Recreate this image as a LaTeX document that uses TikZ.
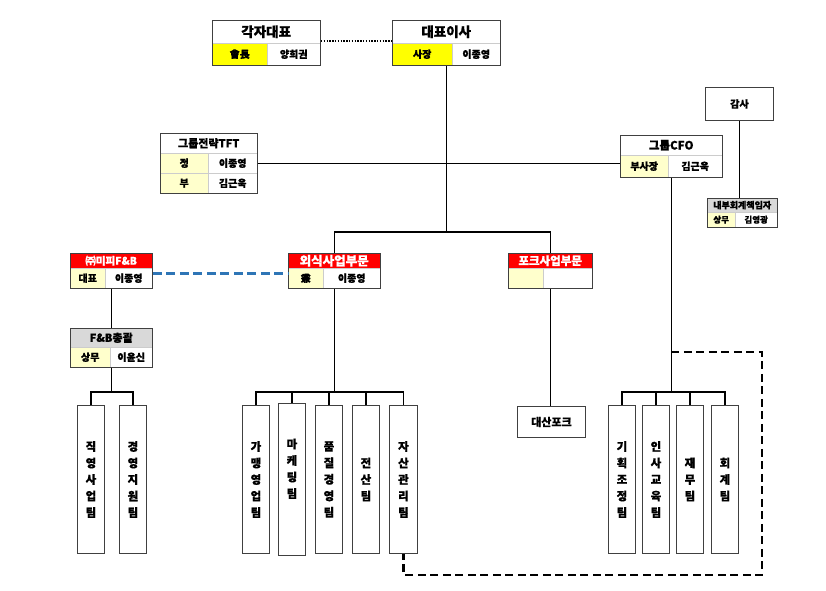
\documentclass[tikz,border=0pt]{standalone}
\usepackage{fontspec}
\setmainfont{Noto Sans CJK KR}[BoldFeatures={FakeBold=0.7}]
\definecolor{yel}{HTML}{FFFF00}
\definecolor{ltyel}{HTML}{FFFFCC}
\definecolor{red1}{HTML}{FF0000}
\definecolor{gry}{HTML}{D9D9D9}
\definecolor{bord}{HTML}{404040}
\definecolor{blu}{HTML}{2E75B6}
\tikzset{
 frame/.style={draw=bord, line width=0.9pt, inner sep=0pt, anchor=north west},
 cell/.style={draw=black!20, line width=0.4pt, inner sep=0pt, anchor=north west, font=\bfseries\fontsize{10}{12}\selectfont},
 ttl/.style={cell, font=\bfseries\fontsize{11}{13}\selectfont},
 team/.style={draw=bord, line width=0.9pt, inner sep=0pt, anchor=north west, minimum width=27pt, minimum height=148pt, align=center, font=\bfseries\fontsize{11.5}{16.5}\selectfont},
 conn/.style={draw=black, line width=1.1pt},
 dotline/.style={draw=black, line width=1.4pt, dash pattern=on 1.4pt off 1.4pt},
 bluedash/.style={draw=blu, line width=2.5pt, dash pattern=on 9pt off 4.5pt},
 thickdash/.style={draw=black, line width=2.3pt, dash pattern=on 8pt off 4.5pt},
}
\begin{document}
\begin{tikzpicture}[x=1pt,y=-1pt]
\useasboundingbox (0,0) rectangle (826,590);
% 각자대표
\node[ttl, fill=white, minimum width=108pt, minimum height=23pt, font=\bfseries\fontsize{13.5}{15}\selectfont] (rep-t) at (212,20) {각자대표};
\node[cell, fill=yel, minimum width=55pt, minimum height=22pt] (rep-l) at (212,43) {會長};
\node[cell, fill=white, minimum width=53pt, minimum height=22pt] (rep-r) at (267,43) {양희권};
\node[frame, minimum width=108pt, minimum height=45pt] (rep) at (212,20) {};
% 대표이사
\node[ttl, fill=white, minimum width=108pt, minimum height=23pt, font=\bfseries\fontsize{13.5}{15}\selectfont] (ceo-t) at (392,20) {대표이사};
\node[cell, fill=yel, minimum width=60pt, minimum height=22pt] (ceo-l) at (392,43) {사장};
\node[cell, fill=white, minimum width=48pt, minimum height=22pt] (ceo-r) at (452,43) {이종영};
\node[frame, minimum width=108pt, minimum height=45pt] (ceo) at (392,20) {};
% 그룹전략TFT
\node[ttl, fill=white, minimum width=97pt, minimum height=20pt] (tft-t) at (160,133) {그룹전략TFT};
\node[cell, fill=ltyel, minimum width=48pt, minimum height=20pt] (tft-l1) at (160,153) {정};
\node[cell, fill=white, minimum width=49pt, minimum height=20pt] (tft-r1) at (208,153) {이종영};
\node[cell, fill=ltyel, minimum width=48pt, minimum height=20pt] (tft-l2) at (160,173) {부};
\node[cell, fill=white, minimum width=49pt, minimum height=20pt] (tft-r2) at (208,173) {김근욱};
\node[frame, minimum width=97pt, minimum height=60pt] (tft) at (160,133) {};
% 그룹CFO
\node[ttl, fill=white, minimum width=102pt, minimum height=20pt, font=\bfseries\fontsize{11.5}{13}\selectfont] (cfo-t) at (620,135) {그룹CFO};
\node[cell, fill=ltyel, minimum width=48pt, minimum height=22pt] (cfo-l) at (620,155) {부사장};
\node[cell, fill=white, minimum width=54pt, minimum height=22pt] (cfo-r) at (668,155) {김근욱};
\node[frame, minimum width=102pt, minimum height=42pt] (cfo) at (620,135) {};
% 감사
\node[frame, minimum width=68pt, minimum height=33pt, font=\bfseries\fontsize{10}{12}\selectfont] (audit) at (705,87) {감사};
% 내부회계책임자
\node[cell, fill=gry, minimum width=70pt, minimum height=14pt, font=\bfseries\fontsize{9}{10}\selectfont] (icfo-t) at (707,198) {내부회계책임자};
\node[cell, fill=ltyel, minimum width=28pt, minimum height=15pt, font=\bfseries\fontsize{8.5}{10}\selectfont] (icfo-l) at (707,212) {상무};
\node[cell, fill=white, minimum width=42pt, minimum height=15pt, font=\bfseries\fontsize{8.5}{10}\selectfont] (icfo-r) at (735,212) {김영광};
\node[frame, minimum width=70pt, minimum height=29pt] (icfo) at (707,198) {};
% ㈜미피F&B
\node[ttl, fill=red1, text=white, minimum width=82pt, minimum height=15pt, font=\bfseries\fontsize{10.5}{12}\selectfont] (mipi-t) at (70,253) {㈜미피F\&B};
\node[cell, fill=ltyel, minimum width=35pt, minimum height=20pt] (mipi-l) at (70,268) {대표};
\node[cell, fill=white, minimum width=47pt, minimum height=20pt] (mipi-r) at (105,268) {이종영};
\node[frame, minimum width=82pt, minimum height=35pt] (mipi) at (70,253) {};
% 외식사업부문
\node[ttl, fill=red1, text=white, minimum width=92pt, minimum height=15pt, font=\bfseries\fontsize{12.5}{13}\selectfont] (food-t) at (288,253) {외식사업부문};
\node[cell, fill=ltyel, minimum width=35pt, minimum height=20pt] (food-l) at (288,268) {兼};
\node[cell, fill=white, minimum width=57pt, minimum height=20pt] (food-r) at (323,268) {이종영};
\node[frame, minimum width=92pt, minimum height=35pt] (food) at (288,253) {};
% 포크사업부문
\node[ttl, fill=red1, text=white, minimum width=84pt, minimum height=15pt, font=\bfseries\fontsize{11.5}{13}\selectfont] (pork-t) at (508,253) {포크사업부문};
\node[cell, fill=ltyel, minimum width=35pt, minimum height=20pt] (pork-l) at (508,268) {};
\node[cell, fill=white, minimum width=49pt, minimum height=20pt] (pork-r) at (543,268) {};
\node[frame, minimum width=84pt, minimum height=35pt] (pork) at (508,253) {};
% F&B총괄
\node[ttl, fill=gry, minimum width=82pt, minimum height=19pt] (fnb-t) at (70,328) {F\&B총괄};
\node[cell, fill=ltyel, minimum width=40pt, minimum height=20pt] (fnb-l) at (70,347) {상무};
\node[cell, fill=white, minimum width=42pt, minimum height=20pt] (fnb-r) at (110,347) {이윤신};
\node[frame, minimum width=82pt, minimum height=39pt] (fnb) at (70,328) {};
% 대산포크
\node[frame, minimum width=68pt, minimum height=31pt, font=\bfseries\fontsize{11}{13}\selectfont] (daesan) at (517,406) {대산포크};
% teams
\node[team] (lt1) at (77,405) {직\\영\\사\\업\\팀};
\node[team] (lt2) at (119,405) {경\\영\\지\\원\\팀};
\node[team] (mt1) at (242,405) {가\\맹\\영\\업\\팀};
\node[team, minimum height=152pt] (mt2) at (278,403) {마\\케\\팅\\팀\\[6pt]};
\node[team] (mt3) at (315,405) {품\\질\\경\\영\\팀};
\node[team] (mt4) at (352,405) {전\\산\\팀};
\node[team, minimum width=28pt] (mt5) at (389,405) {자\\산\\관\\리\\팀};
\node[team] (rt1) at (608,405) {기\\획\\조\\정\\팀};
\node[team] (rt2) at (642,405) {인\\사\\교\\육\\팀};
\node[team] (rt3) at (676,405) {재\\무\\팀};
\node[team] (rt4) at (711,405) {회\\계\\팀};
% connectors
\draw[dotline] ([yshift=2pt]rep.east) -- ([yshift=2pt]rep.east -| ceo.west);
\coordinate (hub) at (ceo.south |- 0,232);
\draw[conn] (ceo.south) -- (hub);
\draw[conn] (tft.east) -- (tft.east -| cfo.west);
\draw[conn] (food.north) |- (hub);
\draw[conn] (pork.north) |- (hub);
\draw[conn] (audit.south) -- (audit.south |- icfo.north);
\draw[bluedash] ([yshift=-2.5pt]mipi.east) -- ([yshift=-2.5pt]mipi.east -| food.west);
\draw[conn] (mipi.south) -- (mipi.south |- fnb.north);
\coordinate (lbus) at (fnb.south |- 0,392);
\draw[conn] (fnb.south) -- (lbus);
\draw[conn] (lt1.north) |- (lbus);
\draw[conn] (lt2.north) |- (lbus);
\coordinate (mbus) at (food.south |- 0,392);
\draw[conn] (food.south) -- (mbus);
\foreach \t in {mt1,mt2,mt3,mt4,mt5} \draw[conn] (\t.north) |- (mbus);
\coordinate (rbus) at (cfo.south |- 0,392);
\draw[conn] (cfo.south) -- (rbus);
\foreach \t in {rt1,rt2,rt3,rt4} \draw[conn] (\t.north) |- (rbus);
\draw[conn] (pork.south) -- (pork.south |- daesan.north);
\coordinate (dA) at (cfo.south |- 0,352);
\coordinate (dB) at (762,352);
\coordinate (dC) at (762,575);
\draw[thickdash] (dA) -- (dB) -- (dC) -- (dC -| mt5.south) -- (mt5.south);
\end{tikzpicture}
\end{document}
